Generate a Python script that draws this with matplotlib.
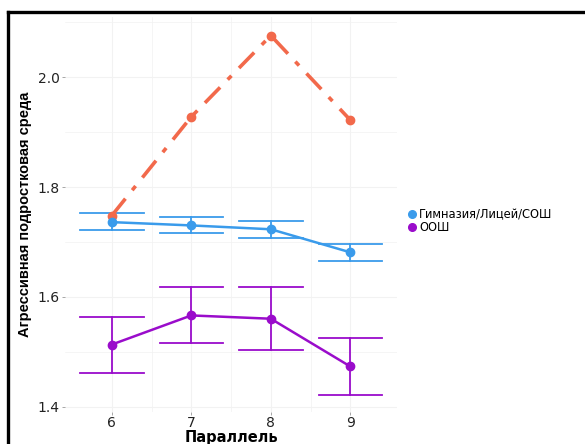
import matplotlib.pyplot as plt
from matplotlib.lines import Line2D
import numpy as np

plt.rcParams['font.family'] = ['Liberation Sans', 'DejaVu Sans']

parallel = [6, 7, 8, 9]

# orange series (not in legend)
orange = [1.748, 1.928, 2.076, 1.922]

# Гимназия/Лицей/СОШ
gym = [1.736, 1.730, 1.723, 1.681]
gym_lo = [1.721, 1.716, 1.707, 1.665]
gym_hi = [1.752, 1.745, 1.738, 1.696]

# ООШ
oosh = [1.513, 1.566, 1.560, 1.473]
oosh_lo = [1.462, 1.515, 1.503, 1.421]
oosh_hi = [1.564, 1.617, 1.617, 1.524]

c_orange = '#F2694B'
c_blue = '#3A9BEB'
c_purple = '#9A0CCB'

fig = plt.figure(figsize=(5.85, 4.44), dpi=100)
ax = fig.add_axes([0.111, 0.072, 0.568, 0.890])

for m in [6, 6.5, 7, 7.5, 8, 8.5, 9]:
    ax.axvline(m, color='#F2F2F2', lw=0.8 if m % 1 == 0 else 0.5, zorder=0)
for m in [1.4, 1.5, 1.6, 1.7, 1.8, 1.9, 2.0, 2.1]:
    ax.axhline(m, color='#F2F2F2', lw=0.8 if round(m * 10) % 2 == 0 else 0.5, zorder=0)

def errbars(x, lo, hi, color):
    for xi, l, h in zip(x, lo, hi):
        ax.plot([xi, xi], [l, h], color=color, lw=1.3, zorder=2)
        ax.plot([xi - 0.4, xi + 0.4], [l, l], color=color, lw=1.3, zorder=2)
        ax.plot([xi - 0.4, xi + 0.4], [h, h], color=color, lw=1.3, zorder=2)

errbars(parallel, gym_lo, gym_hi, c_blue)
errbars(parallel, oosh_lo, oosh_hi, c_purple)

ax.plot(parallel, orange, color=c_orange, lw=2.6, dashes=(6, 3, 1.5, 3),
        marker='o', ms=6, zorder=3)
ax.plot(parallel, gym, color=c_blue, lw=1.8, marker='o', ms=6, zorder=3)
ax.plot(parallel, oosh, color=c_purple, lw=1.8, marker='o', ms=6, zorder=3)

ax.set_xlim(5.41, 9.59)
ax.set_ylim(1.39, 2.11)
ax.set_xticks(parallel)
ax.set_yticks([1.4, 1.6, 1.8, 2.0])
ax.set_yticklabels(['1.4', '1.6', '1.8', '2.0'])
ax.tick_params(axis='both', labelsize=10, length=2, width=0.6, color='#999999',
               labelcolor='#222222', pad=2)
ax.tick_params(axis='x', pad=1)
for lab in ax.get_xticklabels() + ax.get_yticklabels():
    lab.set_family('DejaVu Sans')
for s in ax.spines.values():
    s.set_visible(False)

ax.set_ylabel('Агрессивная подростковая среда', fontsize=10.5, fontweight='bold', labelpad=4)
ax.set_xlabel('Параллель', fontsize=10.5, fontweight='bold', labelpad=0,
              family='DejaVu Sans')

handles = [Line2D([], [], color=c_blue, marker='o', ls='', ms=5.5),
           Line2D([], [], color=c_purple, marker='o', ls='', ms=5.5)]
fig.legend(handles, ['Гимназия/Лицей/СОШ', 'ООШ'], loc='upper left',
           bbox_to_anchor=(0.690, 0.541), frameon=False,
           prop={'family': 'DejaVu Sans', 'size': 8.3},
           handlelength=0.6, handletextpad=0.35, labelspacing=0.0,
           borderaxespad=0)

# black frame on left and top
fig.add_artist(Line2D([0.014, 0.014], [0.0, 0.973], color='black', lw=2.4,
                      transform=fig.transFigure))
fig.add_artist(Line2D([0.014, 1.0], [0.973, 0.973], color='black', lw=2.4,
                      transform=fig.transFigure))

fig.savefig('out.png', dpi=100)
